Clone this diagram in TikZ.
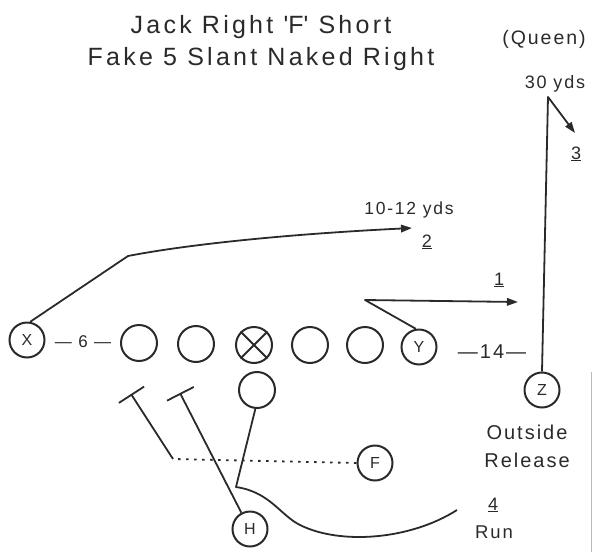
\documentclass[tikz,border=0pt]{standalone}
\usepackage{fontspec}
\setmainfont{Liberation Sans}[LetterSpace=10]
\newfontfamily\titlefont{Liberation Sans}[LetterSpace=13]
\usetikzlibrary{arrows.meta}
\definecolor{ink}{HTML}{2A2A2A}
\begin{document}
\begin{tikzpicture}[x=1pt,y=-1pt,
  player/.style={circle, draw=ink, line width=2pt, minimum size=35pt, inner sep=0pt,
    text=ink, font=\fontsize{16}{16}\selectfont},
  lineman/.style={player, minimum size=36pt},
  route/.style={draw=ink, line width=1.8pt, line join=round},
  arr/.style={-{Triangle[length=11pt,width=7.5pt]}},
  blk/.style={-{Bar[width=30pt]}},
  dots/.style={dash pattern=on 2.5pt off 5.5pt},
  lbl/.style={anchor=base, inner sep=0pt, text=ink},
  big/.style={lbl, font=\titlefont\fontsize{25}{30}\selectfont},
  mid/.style={lbl, font=\fontsize{20}{24}\selectfont},
  sml/.style={lbl, font=\fontsize{18}{22}\selectfont}]
\useasboundingbox (0,0) rectangle (597,552);

% titles
\node[big] (t1) at (261,33) {Jack Right \textquotesingle F\textquotesingle\ Short};
\node[big] (t2) at (261,65) {Fake 5 Slant Naked Right};
\node[lbl, font=\fontsize{19.5}{24}\selectfont] (queen) at (544,44) {(Queen)};

% players
\node[player] (X) at (27,340) {X};
\node[lineman] (L1) at (139,343) {};
\node[lineman] (L2) at (196,344) {};
\node[lineman] (C)  at (254,345) {};
\draw[ink, line width=2pt] (C.45) -- (C.225) (C.135) -- (C.315);
\node[lineman] (L4) at (310,345) {};
\node[lineman] (L5) at (365,345) {};
\node[player] (Y) at (419,347) {Y};
\node[player] (Z) at (542,390) {Z};
\node[lineman] (QB) at (257,390) {};
\node[player] (F) at (375,463) {F};
\node[player] (H) at (250,529) {H};

% spacing labels
\node[lbl, font=\fontsize{17}{20}\selectfont] (six) at (83,347) {— 6 —};
\node[lbl, font=\fontsize{20}{24}\selectfont] (fourteen) at (492,358) {—14—};

% route labels
\node[sml] (yds30) at (555,88) {30 yds};
\node[sml] (n3) at (576,159) {\underline{3}};
\node[lbl, font=\fontsize{17.5}{22}\selectfont] (yds10) at (409,214) {10-12 yds};
\node[sml] (n2) at (427,247) {\underline{2}};
\node[sml] (n1) at (499,285) {\underline{1}};
\node[mid] (out) at (527,439) {Outside};
\node[mid] (rel) at (527,467) {Release};
\node[sml] (n4) at (493,510) {\underline{4}};
\node[lbl, font=\fontsize{18.5}{22}\selectfont] (run) at (494,538) {Run};

% route coordinates
\coordinate (xa) at (128,256);
\coordinate (xt) at (412,228);
\coordinate (ya) at (365,300);
\coordinate (yt) at (518,302);
\coordinate (za) at (548,97);
\coordinate (zt) at (575,133);
\coordinate (fa) at (173,459);
\coordinate (ft) at (131,394);
\coordinate (ht) at (180,393);
\coordinate (qa) at (236,487);
\coordinate (qb) at (300,525);
\coordinate (qt) at (457,510);

% routes
\draw[route, arr] (X.80) -- (xa) .. controls (190,244) and (290,234) .. (xt);
\draw[route, arr] (Y.100) -- (ya) -- (yt);
\draw[route, arr] (Z.north) -- (za) -- (zt);
\draw[route, dots] (F.west) -- (fa);
\draw[route, blk] (fa) -- (ft);
\draw[route, blk] (H.118) -- (ht);
\draw[route] (QB.265) -- (qa) .. controls (270,492) and (280,515) .. (qb)
  .. controls (340,545) and (410,540) .. (qt);

% scan edge
\draw[gray!55, line width=1pt] (591,372) -- (591,552);
\end{tikzpicture}
\end{document}
